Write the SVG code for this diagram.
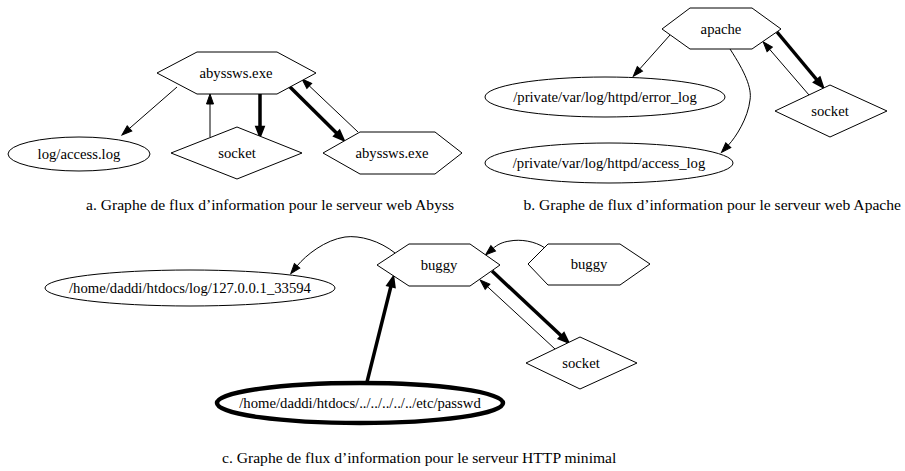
<svg xmlns="http://www.w3.org/2000/svg" width="905" height="471" viewBox="0 0 905 471">
<defs>
<style>
.n{fill:#fff;stroke:#000;stroke-width:1}
text{font-family:'Liberation Serif','Times New Roman',Times,'DejaVu Serif',serif;fill:#000}
.t{font-size:14.7px;text-anchor:middle}
.cap{font-size:15.6px}
.e{fill:none;stroke:#000;stroke-width:1}
.b{fill:none;stroke:#000;stroke-width:3.5}
</style>
<marker id="ah" markerUnits="userSpaceOnUse" markerWidth="12" markerHeight="10" refX="0" refY="0" viewBox="0 -5 12 10" orient="auto" overflow="visible">
<path d="M0,-3.5L10,0L0,3.5Z" fill="#000" stroke="#000" stroke-width="1"/>
</marker>
<marker id="ahb" markerUnits="userSpaceOnUse" markerWidth="12" markerHeight="10" refX="0" refY="0" viewBox="0 -5 12 10" orient="auto" overflow="visible">
<path d="M0,-3.5L9,0L0,3.5Z" fill="#000" stroke="#000" stroke-width="2.5" stroke-linejoin="miter"/>
</marker>
</defs>
<rect width="905" height="471" fill="#fff"/>

<g id="connectors">
<path class="e" d="M177,87L129.5,128.4" marker-end="url(#ah)"/>
<path class="e" d="M210,137L210,104" marker-end="url(#ah)"/>
<path class="b" d="M260,94L260,127" marker-end="url(#ahb)"/>
<path class="b" d="M289,86L337,133.5" marker-end="url(#ahb)"/>
<path class="e" d="M358,132L309.3,85.9" marker-end="url(#ah)"/>
<path class="e" d="M670,35L639.9,68.8" marker-end="url(#ah)"/>
<path class="e" d="M730,49C745,72 752,88 750,100C748,118 736,137 728.3,145.2" marker-end="url(#ah)"/>
<path class="b" d="M777,32L817,80" marker-end="url(#ahb)"/>
<path class="e" d="M809,95L769.7,49.4" marker-end="url(#ah)"/>
<path class="e" d="M395,253C380,241 360,235 345,237C325,240 306,255 297.1,265.9" marker-end="url(#ah)"/>
<path class="e" d="M545,248C535,241 520,239 510,241C502,242 497,245 493.2,248.3" marker-end="url(#ah)"/>
<path class="b" d="M492,271L561.5,336" marker-end="url(#ahb)"/>
<path class="e" d="M555,349L487.5,286.7" marker-end="url(#ah)"/>
<path class="b" d="M367,382L391,286" marker-end="url(#ahb)"/>
</g>

<g id="a_abyssws">
<polygon class="n" points="157,73 197,52 277,52 316,73 277,94 197,94"/>
<text class="t" x="236" y="77.5">abyssws.exe</text>
</g>
<g id="a_log">
<ellipse class="n" cx="79" cy="154" rx="71" ry="17"/>
<text class="t" x="79" y="158.5">log/access.log</text>
</g>
<g id="a_socket">
<polygon class="n" points="171,153 237,127 302,153 237,179"/>
<text class="t" x="237" y="157.5">socket</text>
</g>
<g id="a_abyssws2">
<polygon class="n" points="323,153 360,132 435,132 462,153 435,174 360,174"/>
<text class="t" x="392" y="157.5">abyssws.exe</text>
</g>

<g id="b_apache">
<polygon class="n" points="662,29 690,8 752,8 781,29 752,49 690,49"/>
<text class="t" x="721" y="33.5">apache</text>
</g>
<g id="b_error">
<ellipse class="n" cx="605" cy="97" rx="120" ry="20"/>
<text class="t" x="605" y="101.5">/private/var/log/httpd/error_log</text>
</g>
<g id="b_access">
<ellipse class="n" cx="609" cy="163" rx="124" ry="20"/>
<text class="t" x="609" y="167.5">/private/var/log/httpd/access_log</text>
</g>
<g id="b_socket">
<polygon class="n" points="775,111 830,85 887,111 830,137"/>
<text class="t" x="830" y="115.5">socket</text>
</g>

<g id="c_buggy">
<polygon class="n" points="377,265 409,244 470,244 500,265 470,286 409,286"/>
<text class="t" x="439" y="269.5">buggy</text>
</g>
<g id="c_buggy2">
<polygon class="n" points="528,264 548,244 620,244 650,264 620,285 548,285"/>
<text class="t" x="589" y="268.5">buggy</text>
</g>
<g id="c_log">
<ellipse class="n" cx="190" cy="288" rx="145" ry="18"/>
<text class="t" x="190" y="292.5">/home/daddi/htdocs/log/127.0.0.1_33594</text>
</g>
<g id="c_socket">
<polygon class="n" points="526,363 580,337 637,363 580,389"/>
<text class="t" x="581" y="367.5">socket</text>
</g>
<g id="c_passwd">
<ellipse cx="360" cy="403" rx="143" ry="20" fill="#fff" stroke="#000" stroke-width="4.5"/>
<text class="t" x="360" y="407.5">/home/daddi/htdocs/../../../../../etc/passwd</text>
</g>

<g id="captions">
<text class="cap" x="86" y="210">a. Graphe de flux d’information pour le serveur web Abyss</text>
<text class="cap" x="901" y="210" text-anchor="end">b. Graphe de flux d’information pour le serveur web Apache</text>
<text class="cap" x="222" y="463">c. Graphe de flux d’information pour le serveur HTTP minimal</text>
</g>
</svg>
